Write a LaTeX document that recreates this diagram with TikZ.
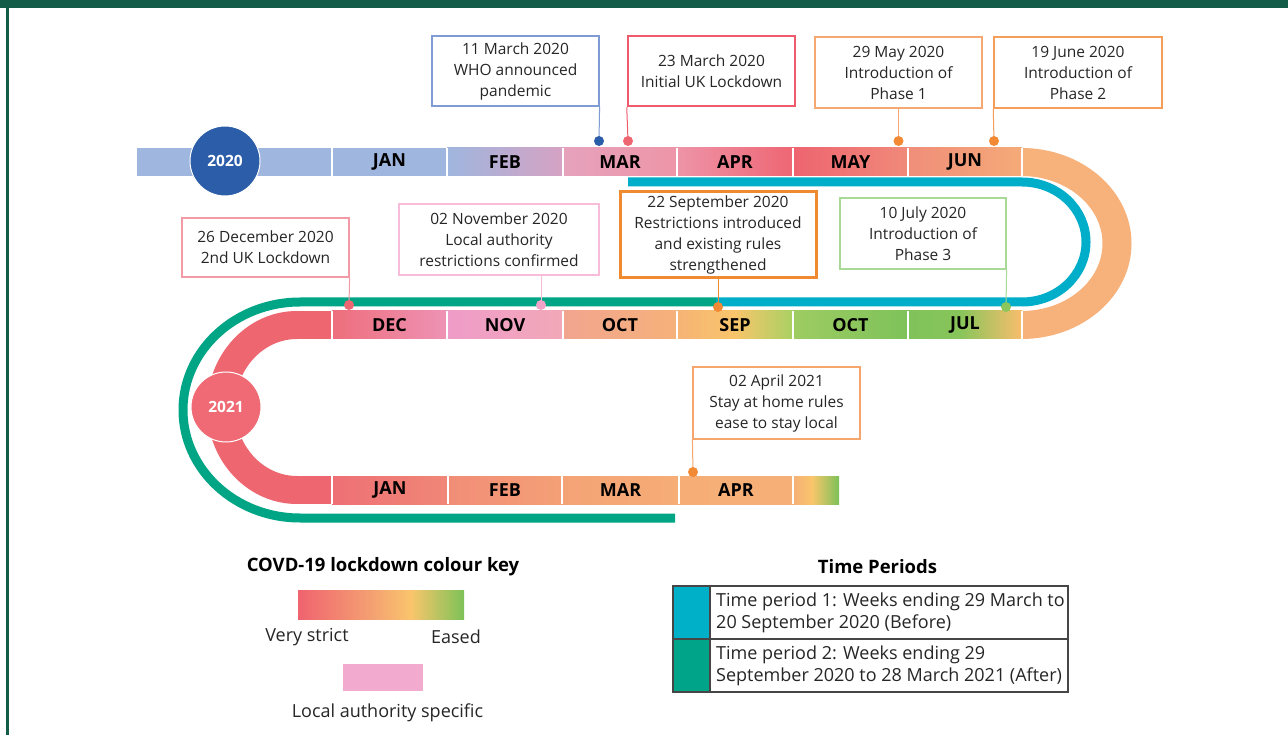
\documentclass[tikz,border=0pt]{standalone}
\usepackage{fontspec}
\setmainfont{Open Sans}
\definecolor{frame}{HTML}{125C48}
\definecolor{lb}{HTML}{9FB6DE}
\definecolor{arcor}{HTML}{F7B17A}
\definecolor{arcred}{HTML}{EE6670}
\definecolor{tealline}{HTML}{00AECA}
\definecolor{greenline}{HTML}{00A585}
\definecolor{blue20}{HTML}{2C5DA9}
\definecolor{red21}{HTML}{EF6A74}
\definecolor{dotorange}{HTML}{F28A35}
\definecolor{txt}{HTML}{262626}
% band colours
\definecolor{febR}{HTML}{D6A2C3}
\definecolor{marL}{HTML}{E6A2BC}
\definecolor{marR}{HTML}{EE95A8}
\definecolor{aprL}{HTML}{EE94A8}
\definecolor{aprR}{HTML}{EE6673}
\definecolor{mayL}{HTML}{EE6470}
\definecolor{mayR}{HTML}{F08A7A}
\definecolor{junL}{HTML}{F08E7A}
\definecolor{junR}{HTML}{F5AA78}
\definecolor{decL}{HTML}{EE6E7C}
\definecolor{decR}{HTML}{EE93B5}
\definecolor{novL}{HTML}{EF9CC8}
\definecolor{novR}{HTML}{F2A8B8}
\definecolor{octL}{HTML}{F2A58F}
\definecolor{octR}{HTML}{F5B17A}
\definecolor{sepL}{HTML}{F6B375}
\definecolor{sepM}{HTML}{F8C56B}
\definecolor{sepR}{HTML}{A9D163}
\definecolor{augL}{HTML}{9DCC62}
\definecolor{augR}{HTML}{7EC25A}
\definecolor{julL}{HTML}{80C35A}
\definecolor{julM}{HTML}{88C55A}
\definecolor{julR}{HTML}{F9BD6D}
\definecolor{bjanL}{HTML}{EE7075}
\definecolor{bjanR}{HTML}{F08777}
\definecolor{bfebL}{HTML}{F18D77}
\definecolor{bfebR}{HTML}{F4A076}
\definecolor{bmarL}{HTML}{F4A376}
\definecolor{bmarR}{HTML}{F6AD76}
\definecolor{baprL}{HTML}{F6AE76}
\definecolor{baprR}{HTML}{F6B077}
\definecolor{bendY}{HTML}{F9C66B}
\definecolor{bendG}{HTML}{7CC158}
% key colours
\definecolor{keyR}{HTML}{F0636F}
\definecolor{keyO}{HTML}{F4A272}
\definecolor{keyY}{HTML}{FAC56C}
\definecolor{keyG}{HTML}{7DC257}
\definecolor{keyP}{HTML}{F2ABCF}
\definecolor{tpteal}{HTML}{00AFC8}
\definecolor{tpgreen}{HTML}{00A488}
\definecolor{tpline}{HTML}{464646}
% box colours
\definecolor{cb1}{HTML}{7E9BD3}
\definecolor{cb2}{HTML}{EE5B6C}
\definecolor{cb3}{HTML}{F6A873}
\definecolor{cb4}{HTML}{F59D5A}
\definecolor{cb5}{HTML}{F29AA5}
\definecolor{cb6}{HTML}{F6BCD8}
\definecolor{cb7}{HTML}{F08A30}
\definecolor{cb8}{HTML}{A8D996}
\definecolor{cb9}{HTML}{F6A66C}
\definecolor{cd2}{HTML}{EF6673}
\definecolor{cd5}{HTML}{EE6672}
\definecolor{cd6}{HTML}{F0A2C9}
\definecolor{cd8}{HTML}{8CC65C}
\tikzset{
  mon/.style={font=\fontsize{18}{18}\selectfont\bfseries, text=black, inner sep=0pt},
  callout/.style={draw, fill=white, align=center, inner sep=0pt, font=\fontsize{15.5}{21}\selectfont, text=txt},
  evdot/.style={circle, inner sep=0pt, minimum size=10pt},
  sepline/.style={white, line width=1.2pt},
  link/.style={line width=1pt},
  period/.style={line width=9pt},
  yearc/.style={circle, draw=white, line width=1pt, minimum size=70pt, inner sep=0pt, text=white, font=\fontsize{15.5}{16}\selectfont\bfseries},
  legtext/.style={font=\fontsize{18}{22}\selectfont, text=txt, inner sep=0pt},
  legtitle/.style={font=\fontsize{18.5}{20}\selectfont\bfseries, text=black, inner sep=0pt},
}
\newcommand{\seg}[6]{\shade[left color=#5, right color=#6] (#1,#3) rectangle (#2,#4);}
\begin{document}
\begin{tikzpicture}[x=1pt,y=1pt]
\useasboundingbox (0,0) rectangle (1288,-735);
\fill[white] (0,0) rectangle (1288,-735);
% frame
\fill[frame] (0,0) rectangle (1288,-8);
\fill[frame] (6,-8) rectangle (8.5,-735);

% ---------- top band (148-176)
\fill[lb] (137,-148) rectangle (447,-176);
\seg{447}{563}{-148}{-176}{lb}{febR}
\seg{563}{677}{-148}{-176}{marL}{marR}
\seg{677}{793}{-148}{-176}{aprL}{aprR}
\seg{793}{908}{-148}{-176}{mayL}{mayR}
\seg{908}{1022}{-148}{-176}{junL}{junR}
% right arc
\fill[arcor] (1021.5,-148) arc[start angle=90, end angle=-90, x radius=110, y radius=95.5]
  -- (1021.5,-311) arc[start angle=-90, end angle=90, x radius=81, y radius=67.5] -- cycle;

% ---------- middle band (311-339)
\fill[arcred] (296,-311) rectangle (332,-339);
\seg{332}{447}{-311}{-339}{decL}{decR}
\seg{447}{563}{-311}{-339}{novL}{novR}
\seg{563}{677}{-311}{-339}{octL}{octR}
\seg{677}{735.5}{-311}{-339}{sepL}{sepM}
\seg{735}{793}{-311}{-339}{sepM}{sepR}
\seg{793}{908}{-311}{-339}{augL}{augR}
\seg{908}{960.5}{-311}{-339}{julL}{julM}
\seg{960}{1022}{-311}{-339}{julM}{julR}
% left arc
\fill[arcred] (297,-311) arc[start angle=90, end angle=270, x radius=90, y radius=96.5]
  -- (297,-476) arc[start angle=270, end angle=90, x radius=62, y radius=68.5] -- cycle;

% ---------- bottom band (476-504)
\fill[arcred] (296,-476) rectangle (332,-504);
\seg{332}{448}{-476}{-504}{bjanL}{bjanR}
\seg{448}{562}{-476}{-504}{bfebL}{bfebR}
\seg{562}{679}{-476}{-504}{bmarL}{bmarR}
\seg{679}{793}{-476}{-504}{baprL}{baprR}
\seg{793}{812.5}{-476}{-504}{baprR}{bendY}
\seg{812}{839}{-476}{-504}{bendY}{bendG}

% separators
\foreach \x in {332,447,563,677,793,908,1022} {
  \draw[sepline] (\x,-148) -- (\x,-176);
  \draw[sepline] (\x,-311) -- (\x,-339);
}
\foreach \x in {332,448,562,679,793} { \draw[sepline] (\x,-476) -- (\x,-504); }

% month labels
\node[mon] (t1) at (389.5,-162) {JAN};
\node[mon] (t2) at (505,-162) {FEB};
\node[mon] (t3) at (620,-162) {MAR};
\node[mon] (t4) at (735,-162) {APR};
\node[mon] (t5) at (850.5,-162) {MAY};
\node[mon] (t6) at (965,-162) {JUN};
\node[mon] (m1) at (389.5,-325) {DEC};
\node[mon] (m2) at (505,-325) {NOV};
\node[mon] (m3) at (620,-325) {OCT};
\node[mon] (m4) at (735,-325) {SEP};
\node[mon] (m5) at (850.5,-325) {OCT};
\node[mon] (m6) at (965,-325) {JUL};
\node[mon] (u1) at (390,-490) {JAN};
\node[mon] (u2) at (505,-490) {FEB};
\node[mon] (u3) at (620.5,-490) {MAR};
\node[mon] (u4) at (736,-490) {APR};

% year circles
\node[yearc, fill=blue20] (y20) at (225,-161) {2020};
\node[yearc, fill=red21] (y21) at (226,-407) {2021};

% time period lines
\draw[period, tealline] (628,-182) -- (1022,-182) arc[start angle=90, end angle=-90, x radius=64, y radius=60] -- (716,-302);
\draw[period, greenline] (716,-302) -- (300,-302) arc[start angle=90, end angle=270, x radius=117, y radius=108] -- (675,-518);

% callout boxes
\node[callout, draw=cb1, line width=1.2pt, minimum width=167pt, minimum height=70pt] (b1) at (515.5,-71) {11 March 2020\\WHO announced\\pandemic};
\node[callout, draw=cb2, line width=2.5pt, minimum width=167pt, minimum height=70pt] (b2) at (711.5,-71) {23 March 2020\\Initial UK Lockdown};
\node[callout, draw=cb3, line width=1.2pt, minimum width=167pt, minimum height=71pt] (b3) at (898.5,-72.5) {29 May 2020\\Introduction of\\Phase 1};
\node[callout, draw=cb4, line width=1.5pt, minimum width=168pt, minimum height=71pt] (b4) at (1078,-72.5) {19 June 2020\\Introduction of\\Phase 2};
\node[callout, draw=cb5, line width=1.2pt, minimum width=167pt, minimum height=59pt] (b5) at (265.5,-247.5) {26 December 2020\\2nd UK Lockdown};
\node[callout, draw=cb6, line width=1.2pt, minimum width=200pt, minimum height=71pt] (b6) at (499,-239.5) {02 November 2020\\Local authority\\restrictions confirmed};
\node[callout, draw=cb7, line width=3pt, minimum width=196pt, minimum height=86pt] (b7) at (718,-235) {22 September 2020\\Restrictions introduced\\and existing rules\\strengthened};
\node[callout, draw=cb8, line width=1.2pt, minimum width=166pt, minimum height=71pt] (b8) at (923,-233.5) {10 July 2020\\Introduction of\\Phase 3};
\node[callout, draw=cb9, line width=1.2pt, minimum width=167pt, minimum height=72pt] (b9) at (776.5,-403) {02 April 2021\\Stay at home rules\\ease to stay local};

% connectors
\draw[link, cb1] (b1.south east) -- (599,-141) coordinate (e1);
\draw[link, cb2] (b2.south west) -- (628,-141) coordinate (e2);
\draw[link, cb3] (b3.south) -- (898.5,-141) coordinate (e3);
\draw[link, cb4] (b4.south west) -- (994,-141) coordinate (e4);
\draw[link, cb5] (b5.south east) -- (349,-305) coordinate (e5);
\draw[link, cb6] (541,-275) -- (541,-305) coordinate (e6);
\draw[link, cb7] (b7.south) -- (718,-307) coordinate (e7);
\draw[link, cb8] (b8.south east) -- (1006,-307) coordinate (e8);
\draw[link, cb9] (b9.south west) -- (693,-472) coordinate (e9);

% event dots
\node[evdot, fill=blue20] (d1) at (e1) {};
\node[evdot, fill=cd2] (d2) at (e2) {};
\node[evdot, fill=dotorange] (d3) at (e3) {};
\node[evdot, fill=dotorange] (d4) at (e4) {};
\node[evdot, fill=cd5] (d5) at (e5) {};
\node[evdot, fill=cd6] (d6) at (e6) {};
\node[evdot, fill=dotorange] (d7) at (e7) {};
\node[evdot, fill=cd8] (d8) at (e8) {};
\node[evdot, fill=dotorange] (d9) at (e9) {};

% ---------- colour key
\node[legtitle] (keyt) at (383,-567) {COVD-19 lockdown colour key};
\seg{298}{373.5}{-590}{-619}{keyR}{keyO}
\seg{373}{411.5}{-590}{-619}{keyO}{keyY}
\seg{411}{464}{-590}{-619}{keyY}{keyG}
\node[legtext] (vs) at (307,-637) {Very strict};
\node[legtext] (es) at (456,-637) {Eased};
\fill[keyP] (343,-664) rectangle (423,-691);
\node[legtext] (las) at (387.5,-713) {Local authority specific};

% ---------- time periods
\node[legtitle] (tpt) at (877.5,-567) {Time Periods};
\fill[tpteal] (673,-586) rectangle (710,-639);
\fill[tpgreen] (673,-639) rectangle (710,-692);
\draw[line width=1.2pt, tpline] (673,-586) rectangle (1068,-692);
\draw[line width=1.2pt, tpline] (673,-639) -- (1068,-639);
\draw[line width=1.2pt, tpline] (710,-586) -- (710,-692);
\node[legtext, anchor=west, align=left] (tp1) at (716,-612.5) {Time period 1: Weeks ending 29 March to\\20 September 2020 (Before)};
\node[legtext, anchor=west, align=left] (tp2) at (716,-665.5) {Time period 2: Weeks ending 29\\September 2020 to 28 March 2021 (After)};
\end{tikzpicture}
\end{document}
